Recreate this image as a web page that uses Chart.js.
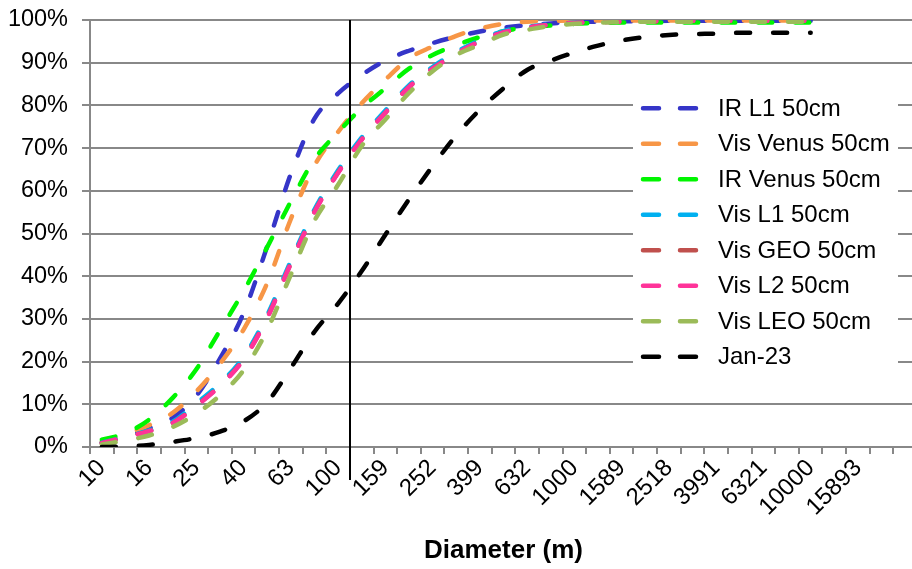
<!DOCTYPE html>
<html>
<head>
<meta charset="utf-8">
<script src="https://cdn.jsdelivr.net/npm/chart.js@4.4.1/dist/chart.umd.min.js"></script>
<style>
  html, body { margin: 0; padding: 0; background: #fff; overflow: hidden; }
  #wrap { width: 918px; height: 569px; }
</style>
</head>
<body>
<div id="wrap"><canvas id="c" width="918" height="569"></canvas></div>
<script>
// Category axis: diameters (m), one category per 0.1 decade; labels shown on every other one
const categories = ['10','13','16','20','25','32','40','50','63','79','100','126','159','200','252','317','399','502','632','796','1000','1262','1589','2001','2518','3170','3991','5024','6321','7962','10000','12601','15893','20010','25199'];
const lastLabelIndex = 32;

// Cumulative completeness (%) per series
const irL1_50 =    [1.0, 2.5, 4.4, 6.8, 12.0, 20.7, 31.4, 47.0, 64.0, 76.9, 82.8, 87.1, 90.5, 92.8, 94.6, 96.1, 97.3, 98.2, 98.8, 99.2, 99.5, 99.6, 99.7, 99.7, 99.8, 99.8, 99.8, 99.8, 99.8, 99.8, 99.8];
const visVenus_50 = [1.2, 3.0, 5.1, 8.0, 13.0, 19.5, 27.5, 38.4, 53.4, 65.9, 73.8, 80.5, 86.0, 91.0, 93.8, 96.3, 98.0, 99.1, 99.6, 99.8, 99.9, 99.9, 99.9, 99.9, 99.9, 99.9, 99.9, 99.9, 99.9, 99.9, 99.9];
const irVenus_50 = [1.7, 3.2, 6.4, 11.5, 18.2, 27.3, 36.5, 46.8, 57.5, 67.4, 73.7, 79.4, 84.0, 88.6, 91.8, 94.1, 96.0, 97.4, 98.3, 98.7, 99.1, 99.3, 99.4, 99.4, 99.4, 99.4, 99.4, 99.4, 99.4, 99.4, 99.4];
const visL1_50 =   [1.0, 2.4, 3.9, 5.9, 10.2, 14.9, 21.1, 30.9, 43.6, 55.6, 64.8, 72.5, 78.8, 84.7, 89.0, 92.5, 95.3, 97.4, 98.4, 99.0, 99.4, 99.6, 99.7, 99.8, 99.8, 99.8, 99.8, 99.8, 99.8, 99.8, 99.8];
const visGEO_50 =  [0.9, 2.3, 3.7, 5.6, 9.7, 14.4, 20.6, 30.3, 43.0, 55.1, 64.3, 72.0, 78.3, 84.3, 88.6, 92.1, 95.0, 97.1, 98.2, 98.9, 99.3, 99.5, 99.6, 99.7, 99.7, 99.8, 99.8, 99.8, 99.8, 99.8, 99.8];
const visL2_50 =   [0.9, 2.3, 3.7, 5.6, 9.6, 14.3, 20.5, 30.2, 43.0, 55.0, 64.2, 72.0, 78.3, 84.3, 88.6, 92.1, 95.0, 97.1, 98.2, 98.9, 99.3, 99.5, 99.6, 99.7, 99.7, 99.8, 99.8, 99.8, 99.8, 99.8, 99.8];
const visLEO_50 =  [0.6, 1.5, 2.7, 4.7, 7.8, 12.1, 18.0, 27.4, 40.4, 53.0, 61.4, 70.5, 76.7, 82.9, 88.0, 91.8, 94.2, 96.6, 97.7, 98.6, 99.1, 99.4, 99.5, 99.6, 99.6, 99.6, 99.6, 99.6, 99.6, 99.6, 99.6];
const jan23 =      [0.0, 0.1, 0.5, 1.2, 2.1, 3.6, 6.0, 10.5, 18.5, 27.0, 33.6, 41.2, 49.7, 58.0, 65.8, 73.0, 79.0, 84.0, 88.3, 90.5, 92.4, 94.0, 95.2, 96.0, 96.5, 96.7, 96.8, 97.0, 97.0, 97.0, 97.0];

const seriesNames = ['IR L1 50cm','Vis Venus 50cm','IR Venus 50cm','Vis L1 50cm','Vis GEO 50cm','Vis L2 50cm','Vis LEO 50cm','Jan-23'];
const seriesData = [irL1_50, visVenus_50, irVenus_50, visL1_50, visGEO_50, visL2_50, visLEO_50, jan23];
const seriesColors = ['#3535C8','#F79646','#00F500','#00B0F0','#C0504D','#FF3399','#9BBB59','#000000'];

const yTicks = [0,10,20,30,40,50,60,70,80,90,100];

const DASH = [14, 23];
const LW = 4.5;
const FONT = "'Liberation Sans', Arial, sans-serif";

const datasets = seriesNames.map((name, i) => ({
  label: name,
  data: seriesData[i],
  borderColor: seriesColors[i],
  backgroundColor: seriesColors[i],
  borderWidth: LW,
  borderDash: DASH,
  borderCapStyle: 'round',
  pointRadius: 0,
  pointHoverRadius: 0,
  fill: false,
  cubicInterpolationMode: 'monotone',
  order: seriesNames.length - i
}));

const refLinePlugin = {
  id: 'refLine',
  afterDatasetsDraw(chart) {
    const {ctx, chartArea, scales} = chart;
    const x = Math.round(scales.x.getPixelForValue(10.5));
    ctx.save();
    ctx.strokeStyle = '#000';
    ctx.lineWidth = 2;
    ctx.beginPath();
    ctx.moveTo(x, chartArea.top);
    ctx.lineTo(x, chartArea.bottom + 33);
    ctx.stroke();
    ctx.restore();
  }
};

const boxLegendPlugin = {
  id: 'boxLegend',
  afterDraw(chart) {
    const {ctx, chartArea} = chart;
    const left = chartArea.right - 284;
    const top = chartArea.top + 70;
    const w = 265, h = 287;
    const rowH = 35.5;
    ctx.save();
    ctx.fillStyle = '#fff';
    ctx.fillRect(left, top, w, h);
    ctx.font = '24px ' + FONT;
    ctx.textBaseline = 'middle';
    ctx.textAlign = 'left';
    seriesNames.forEach((name, i) => {
      const y = top + 18.3 + i * rowH;
      ctx.strokeStyle = seriesColors[i];
      ctx.lineWidth = LW;
      ctx.lineCap = 'round';
      ctx.setLineDash([16, 21]);
      ctx.beginPath();
      ctx.moveTo(left + 10, y);
      ctx.lineTo(left + 64, y);
      ctx.stroke();
      ctx.setLineDash([]);
      ctx.fillStyle = '#000';
      ctx.fillText(name, left + 85, y + 1);
    });
    ctx.restore();
  }
};

new Chart(document.getElementById('c'), {
  type: 'line',
  data: { labels: categories, datasets },
  options: {
    responsive: false,
    animation: false,
    devicePixelRatio: 1,
    layout: { padding: { top: 20, right: 1, left: 0, bottom: 0 } },
    plugins: { legend: { display: false }, tooltip: { enabled: false } },
    scales: {
      x: {
        type: 'category',
        offset: true,
        afterFit: s => { s.height = 122; s.paddingLeft = 0; s.paddingRight = 0; },
        grid: { display: true, offset: true, drawOnChartArea: false, drawTicks: true, tickLength: 7, color: '#888', lineWidth: 2 },
        border: { display: true, color: '#888', width: 2 },
        ticks: {
          autoSkip: false,
          maxRotation: 45,
          minRotation: 45,
          padding: 0,
          color: '#000',
          font: { family: FONT, size: 24 },
          callback: (v, i) => (i % 2 === 0 && i <= lastLabelIndex ? categories[i] : '')
        },
        title: {
          display: true,
          text: 'Diameter (m)',
          color: '#000',
          font: { family: FONT, size: 26, weight: 'bold' },
          padding: { top: 0, bottom: 3 }
        }
      },
      y: {
        min: 0,
        max: 100,
        afterFit: s => { s.width = 90; s.paddingTop = 0; s.paddingBottom = 0; },
        afterBuildTicks: s => { s.ticks = yTicks.map(v => ({ value: v })); },
        grid: { color: '#888', lineWidth: 2, tickLength: 8, drawTicks: true },
        border: { display: true, color: '#888', width: 2 },
        ticks: {
          padding: 14,
          color: '#000',
          font: { family: FONT, size: 23.5 },
          callback: v => v + '%'
        }
      }
    }
  },
  plugins: [refLinePlugin, boxLegendPlugin]
});
</script>
</body>
</html>
